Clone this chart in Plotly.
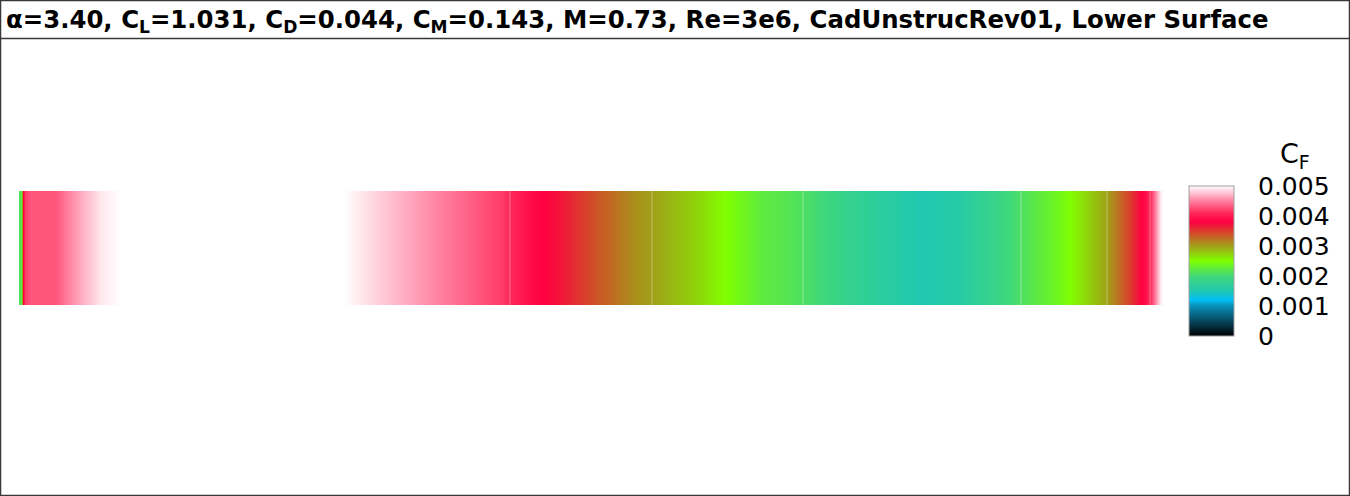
import plotly.graph_objects as go

# skin friction along the chord, lower surface (x/c, Cf); clipped at 0.005
x_c = [0.0, 0.00175, 0.0035, 0.0052, 0.0096, 0.0315, 0.049, 0.0708, 0.0883,
       0.0895, 0.2825, 0.284, 0.3156, 0.3505, 0.3855, 0.4205, 0.4292, 0.451,
       0.4729, 0.5079, 0.5428, 0.5533, 0.5953, 0.6171, 0.6477, 0.6853, 0.7264,
       0.7876, 0.8226, 0.8575, 0.8759, 0.91, 0.9187, 0.9449, 0.951, 0.9711,
       0.9843, 0.9886, 0.993, 0.9974, 1.0]
cf = [0.0021, 0.0022, 0.0038, 0.0042, 0.0043, 0.0043, 0.0046, 0.0049, 0.0050,
      0.0060, 0.0060, 0.0050, 0.0048, 0.0046, 0.0044, 0.0042, 0.0041, 0.00385,
      0.0037, 0.00335, 0.00305, 0.0030, 0.0027, 0.0025, 0.00225, 0.0021, 0.0018,
      0.0015, 0.0016, 0.0019, 0.0021, 0.0024, 0.0025, 0.0029, 0.0030, 0.0035,
      0.0039, 0.0041, 0.0045, 0.0049, 0.0050]

# mesh zone boundaries seen as faint lines
zone_edges = [0.0883, 0.284, 0.4292, 0.5533, 0.6853, 0.8759, 0.951, 0.9886]

cb_ticks = [0, 0.001, 0.002, 0.003, 0.004, 0.005]
cb_labels = ['0', '0.001', '0.002', '0.003', '0.004', '0.005']

title = ('\u03b1=3.40, C<sub>L</sub>=1.031, C<sub>D</sub>=0.044, '
         'C<sub>M</sub>=0.143, M=0.73, Re=3e6, CadUnstrucRev01, Lower Surface')

W, H = 1350, 496
cmax = 0.005
FONT = 'DejaVu Sans, Arial'

colorscale = [
    [0.0, '#000000'],
    [0.1, '#064860'],
    [0.2, '#0890b8'],
    [0.24, '#00c0f8'],
    [0.3, '#20c8b0'],
    [0.4, '#40d878'],
    [0.5, '#80ff00'],
    [0.6, '#a0a018'],
    [0.68, '#d05028'],
    [0.76, '#ff0040'],
    [0.82, '#ff2858'],
    [0.9, '#ff80a0'],
    [1.0, '#ffffff'],
]

# pixel placement
strip_x0, strip_x1 = 19, 1163
strip_y0, strip_y1 = 191, 305
cb_top, cb_bot = 186, 336
cb_left, cb_w = 1189, 45

fig = go.Figure()

fig.add_trace(go.Heatmap(
    x=x_c, y=[0, 1], z=[cf, cf],
    zmin=0, zmax=cmax, zsmooth='best',
    colorscale=colorscale,
    hoverinfo='skip',
    colorbar=dict(
        x=cb_left / W, xanchor='left',
        y=1 - cb_bot / H, yanchor='bottom',
        len=(cb_bot - cb_top) / H, lenmode='fraction',
        thickness=cb_w, thicknessmode='pixels',
        outlinecolor='#a0a0a0', outlinewidth=1,
        tickvals=cb_ticks, ticktext=cb_labels,
        ticks='outside', ticklen=19, tickcolor='rgba(0,0,0,0)',
        tickfont=dict(family=FONT, size=25, color='black'),
        xpad=0, ypad=0,
    ),
))

# zone boundary lines
lx, ly = [], []
for e in zone_edges:
    lx += [e, e, None]
    ly += [0, 1, None]
fig.add_trace(go.Scatter(x=lx, y=ly, mode='lines', hoverinfo='skip',
                         line=dict(color='rgba(255,255,255,0.35)', width=1),
                         showlegend=False))

shapes = []
# colorbar contour lines at every tick
for t in cb_ticks[1:-1]:
    yp = cb_bot - (cb_bot - cb_top) * t / cmax
    shapes.append(dict(type='line', xref='paper', yref='paper',
                       x0=cb_left / W, x1=(cb_left + cb_w) / W,
                       y0=1 - yp / H, y1=1 - yp / H,
                       line=dict(color='rgba(60,60,60,0.6)', width=1.5)))
# frame and title separator
shapes.append(dict(type='rect', xref='paper', yref='paper', x0=0, y0=0, x1=1, y1=1,
                   line=dict(color='#383838', width=2.5)))
shapes.append(dict(type='line', xref='paper', yref='paper', x0=0, x1=1,
                   y0=1 - 38.5 / H, y1=1 - 38.5 / H,
                   line=dict(color='#383838', width=1.5)))

fig.update_layout(
    width=W, height=H,
    margin=dict(l=0, r=0, t=0, b=0),
    paper_bgcolor='white', plot_bgcolor='white',
    showlegend=False,
    shapes=shapes,
    xaxis=dict(domain=[strip_x0 / W, strip_x1 / W], range=[0, 1],
               visible=False, fixedrange=True),
    yaxis=dict(domain=[1 - strip_y1 / H, 1 - strip_y0 / H], range=[0, 1],
               visible=False, fixedrange=True),
    annotations=[
        dict(text=title, xref='paper', yref='paper', x=4 / W, y=1 - 21 / H,
             xanchor='left', yanchor='middle', showarrow=False,
             font=dict(family=FONT, size=24.4, color='black', weight='bold')),
        dict(text='C<sub>F</sub>', xref='paper', yref='paper', x=1295 / W,
             y=1 - 155 / H, xanchor='center', yanchor='middle', showarrow=False,
             font=dict(family=FONT, size=27, color='black')),
    ],
)

# page body margin would shift the figure by 8px
fig.write_html("out.html", config={'displayModeBar': False},
               post_script="document.body.style.margin='0';")
